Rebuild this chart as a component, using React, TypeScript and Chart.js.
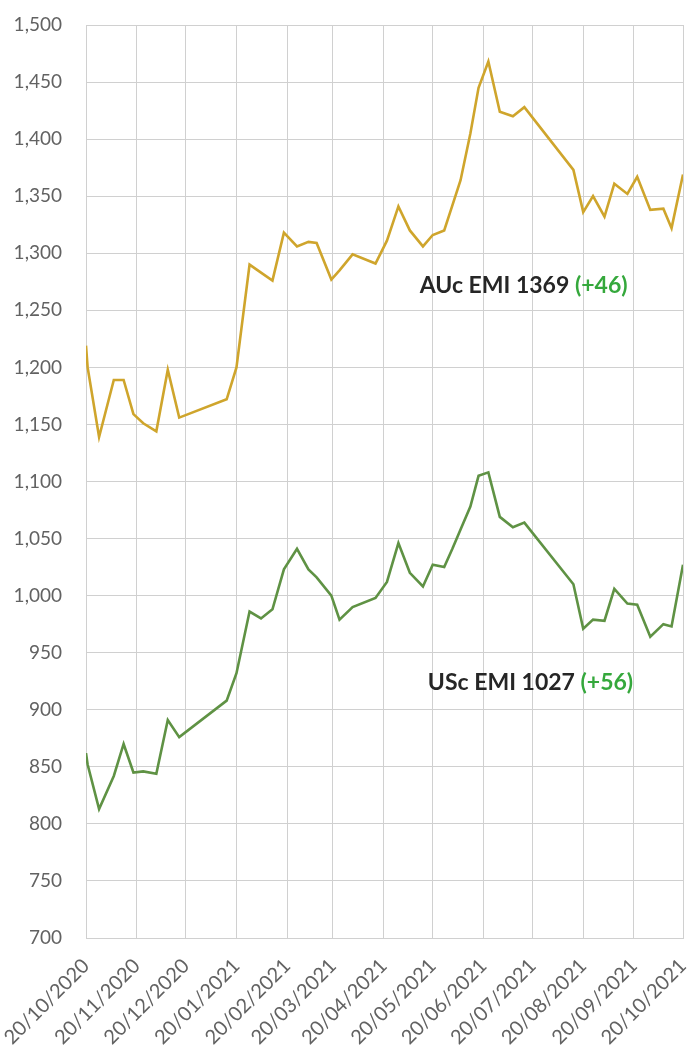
import React, { useEffect, useRef } from "react";
import { Chart, registerables } from "chart.js";

Chart.register(...registerables);

// Days since 20/10/2020 for each observation
const dayOffsets = [
  0, 1, 8, 17, 23, 29, 35, 43, 50, 57,
  86, 92, 100, 107, 114, 121, 129, 136, 141, 150,
  155, 163, 177, 184, 191, 198, 206, 212, 219, 224,
  229, 235, 240, 246, 253, 261, 268, 298, 304, 310,
  317, 323, 331, 337, 345, 353, 358, 365,
];

const aucEmi = [
  1219, 1200, 1139, 1189, 1189, 1159, 1151, 1144, 1198, 1156,
  1172, 1200, 1290, 1283, 1276, 1318, 1306, 1310, 1309, 1277,
  1285, 1299, 1291, 1311, 1341, 1320, 1306, 1316, 1320, 1342,
  1364, 1405, 1445, 1468, 1424, 1420, 1428, 1373, 1336, 1350,
  1332, 1361, 1352, 1367, 1338, 1339, 1322, 1369,
];

const uscEmi = [
  862, 852, 813, 842, 870, 845, 846, 844, 891, 876,
  908, 932, 986, 980, 988, 1023, 1041, 1023, 1016, 1000,
  979, 990, 998, 1012, 1046, 1020, 1008, 1027, 1025, 1041,
  1058, 1078, 1105, 1108, 1069, 1060, 1064, 1010, 971, 979,
  978, 1006, 993, 992, 964, 975, 973, 1027,
];

const monthTickDays = [0, 31, 61, 92, 123, 151, 182, 212, 243, 273, 304, 335, 365];
const monthTickLabels = [
  "20/10/2020", "20/11/2020", "20/12/2020", "20/01/2021", "20/02/2021",
  "20/03/2021", "20/04/2021", "20/05/2021", "20/06/2021", "20/07/2021",
  "20/08/2021", "20/09/2021", "20/10/2021",
];

const annotationTexts = ["AUc EMI 1369", "USc EMI 1027"];
const annotationChanges = ["(+46)", "(+56)"];
const annotationDays = [204, 209];
const annotationValues = [1272, 924];

const GOLD = "#cfa52c";
const GREEN = "#5f9244";
const GRID = "#d0d0d0";
const TICK = "#626262";
const CHANGE_GREEN = "#35a83c";

const annotationPlugin = {
  id: "emiAnnotations",
  afterDatasetsDraw(chart: any) {
    const { ctx, scales } = chart;
    const xs = scales.x;
    const ys = scales.y;
    ctx.save();
    ctx.font = 'bold 23px Lato';
    ctx.textBaseline = "middle";
    ctx.textAlign = "left";
    annotationTexts.forEach((t, i) => {
      let px = xs.getPixelForValue(annotationDays[i]);
      const py = ys.getPixelForValue(annotationValues[i]);
      ctx.fillStyle = "#262626";
      ctx.fillText(t, px, py);
      px += ctx.measureText(t + " ").width;
      ctx.fillStyle = CHANGE_GREEN;
      ctx.fillText(annotationChanges[i], px, py);
    });
    ctx.restore();
  },
};

export default function App() {
  const canvasRef = useRef<HTMLCanvasElement | null>(null);

  useEffect(() => {
    document.body.style.margin = "0";
    const canvas = canvasRef.current;
    if (!canvas) return;
    const toPoints = (vals: number[]) => vals.map((v, i) => ({ x: dayOffsets[i], y: v }));
    const chart = new Chart(canvas, {
      type: "line",
      data: {
        datasets: [
          {
            label: "AUc EMI",
            data: toPoints(aucEmi),
            borderColor: GOLD,
            backgroundColor: GOLD,
            borderWidth: 2.6,
            pointRadius: 0,
            tension: 0,
          },
          {
            label: "USc EMI",
            data: toPoints(uscEmi),
            borderColor: GREEN,
            backgroundColor: GREEN,
            borderWidth: 2.6,
            pointRadius: 0,
            tension: 0,
          },
        ],
      },
      options: {
        animation: false,
        responsive: false,
        maintainAspectRatio: false,
        layout: { padding: { top: 25, right: 8, left: 0, bottom: 0 } },
        plugins: {
          legend: { display: false },
          tooltip: { enabled: false },
        },
        scales: {
          x: {
            type: "linear",
            min: 0,
            max: 365,
            afterBuildTicks: (scale: any) => {
              scale.ticks = monthTickDays.map((v) => ({ value: v }));
            },
            afterFit: (scale: any) => {
              scale.height = 112;
              scale.paddingLeft = 0;
              scale.paddingRight = 0;
            },
            grid: { color: GRID, lineWidth: 1, drawTicks: false },
            border: { color: GRID },
            ticks: {
              autoSkip: false,
              minRotation: 45,
              maxRotation: 45,
              padding: 16,
              color: TICK,
              font: { family: "Lato", size: 20 },
              callback: (value: any) => {
                const idx = monthTickDays.indexOf(Number(value));
                return idx >= 0 ? monthTickLabels[idx] : "";
              },
            },
          },
          y: {
            min: 700,
            max: 1500,
            afterFit: (scale: any) => {
              scale.width = 86;
              scale.paddingTop = 0;
              scale.paddingBottom = 0;
            },
            grid: { color: GRID, lineWidth: 1, drawTicks: false },
            border: { color: GRID },
            ticks: {
              stepSize: 50,
              padding: 24,
              color: TICK,
              font: { family: "Lato", size: 19 },
              callback: (value: any) => Number(value).toLocaleString("en-US"),
            },
          },
        },
      },
      plugins: [annotationPlugin],
    });
    return () => chart.destroy();
  }, []);

  return (
    <div style={{ width: 691, height: 1050 }}>
      <canvas ref={canvasRef} width={691} height={1050} style={{ width: 691, height: 1050 }} />
    </div>
  );
}
